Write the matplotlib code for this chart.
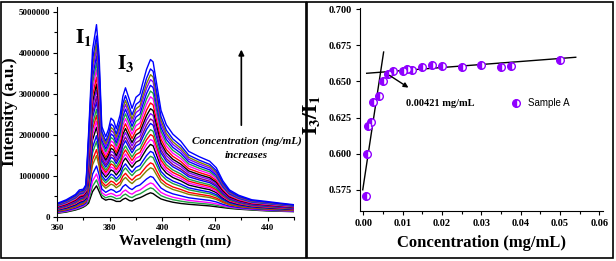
import numpy as np
import matplotlib
matplotlib.use("Agg")
import matplotlib.pyplot as plt
from matplotlib.patches import Rectangle

plt.rcParams['font.family'] = ['Liberation Serif', 'DejaVu Serif']
plt.rcParams['font.weight'] = 'bold'
plt.rcParams['axes.labelweight'] = 'bold'
plt.rcParams['mathtext.fontset'] = 'stix'

# ---- left panel: emission spectra ----
wavelength = [360, 363.5, 367, 368.5, 370, 371, 372, 373.5, 375, 376, 377, 378.5, 379.5,
              380.5, 381.5, 382.5, 384, 385, 386, 387.5, 388.5, 390, 391.5, 392.5, 394,
              395.5, 396.5, 398, 399.5, 401.5, 404, 407, 410, 414, 418, 420.5, 423, 425.5,
              429, 434, 439.5, 444.5, 450]
# highest concentration spectrum (blue outline)
top_spectrum = [0.33, 0.42, 0.55, 0.66, 0.68, 0.79, 2.05, 4.08, 4.69, 3.92, 2.21, 1.96, 2.13,
                2.41, 2.35, 2.15, 2.50, 2.94, 3.15, 2.86, 2.65, 2.92, 3.00, 3.25, 3.60,
                3.84, 3.78, 3.19, 2.60, 2.25, 2.02, 1.85, 1.60, 1.47, 1.36, 1.20, 0.88, 0.66,
                0.53, 0.42, 0.38, 0.34, 0.30]
# lowest concentration spectrum (black)
bottom_spectrum = [0.09, 0.12, 0.17, 0.20, 0.24, 0.28, 0.34, 0.62, 0.76, 0.62, 0.47, 0.41, 0.43,
                   0.43, 0.41, 0.38, 0.38, 0.43, 0.46, 0.40, 0.39, 0.44, 0.47, 0.50, 0.55,
                   0.59, 0.57, 0.50, 0.44, 0.40, 0.36, 0.33, 0.31, 0.29, 0.27, 0.25, 0.23, 0.21,
                   0.19, 0.17, 0.15, 0.14, 0.13]
# height of the 396 nm band for each curve (x 1e6), bottom to top
peak_396 = [0.58, 0.70, 0.82, 0.98, 1.19, 1.31, 1.47, 1.59, 1.76, 1.88, 2.00, 2.12,
            2.27, 2.38, 2.51, 2.63, 2.77, 2.92, 3.06, 3.20, 3.34, 3.46, 3.60, 3.83]
curve_colors = ['#000000', '#20A040', '#FF00FF', '#0000FF', '#808000', '#FF0000',
                '#20A040', '#0000FF', '#000000', '#FF00FF', '#FF0000', '#20A040',
                '#0000FF', '#800080', '#8000FF', '#000000', '#FF0000', '#FF00FF',
                '#20A040', '#0000FF', '#8000FF', '#808000', '#0000FF', '#0000FF']

# ---- right panel: I3/I1 ratio ----
conc = [0.00075, 0.001, 0.00125, 0.002, 0.0025, 0.004, 0.005, 0.00625, 0.0075, 0.01,
        0.01125, 0.0125, 0.015, 0.0175, 0.02, 0.025, 0.03, 0.035, 0.0375, 0.05]
ratio = [0.571, 0.600, 0.619, 0.622, 0.636, 0.640, 0.650, 0.6553, 0.657, 0.657,
         0.6587, 0.658, 0.660, 0.6617, 0.6608, 0.660, 0.6617, 0.6603, 0.661, 0.665]
steep_fit = (18.0, 0.5768)     # slope, intercept
flat_fit = (0.209, 0.6555)
steep_range = (-0.0001, 0.0052)
flat_range = (0.0009, 0.054)
cmc = 0.00421

fig = plt.figure(figsize=(6.16, 2.61), dpi=100)

# panel frames
for x0, x1 in [(1, 306), (307, 613)]:
    fig.add_artist(Rectangle((x0 / 616, 3 / 261), (x1 - x0) / 616, 256 / 261,
                             transform=fig.transFigure, fill=False, lw=1.2, ec='black'))

ax1 = fig.add_axes([57 / 616, 1 - 217 / 261, 237 / 616, 210 / 261])
wl = np.array(wavelength)
top = np.array(top_spectrum) * 1e6
bot = np.array(bottom_spectrum) * 1e6
for p, c in zip(peak_396, curve_colors):
    w = (p - peak_396[0]) / (peak_396[-1] - peak_396[0])
    ax1.plot(wl, bot + w * (top - bot), color=c, lw=1.0)

ax1.set_xlim(360, 450)
ax1.set_ylim(0, 5.12e6)
ax1.set_xticks([360, 380, 400, 420, 440])
ax1.set_xticks(np.arange(370, 451, 20), minor=True)
ax1.set_yticks(np.arange(0, 5000001, 1000000))
ax1.set_yticks(np.arange(500000, 5000000, 1000000), minor=True)
ax1.yaxis.set_major_formatter(matplotlib.ticker.FuncFormatter(lambda v, _: f'{int(v)}'))
ax1.tick_params(labelsize=6.5, length=3, width=0.8, direction='out', pad=2)
ax1.tick_params(which='minor', length=2, width=0.8)
for s in ['top', 'right']:
    ax1.spines[s].set_visible(False)
ax1.set_xlabel('Wavelength (nm)', fontsize=11)
ax1.xaxis.set_label_coords(0.5, -0.085)
ax1.set_ylabel('Intensity (a.u.)', fontsize=12.5)
ax1.yaxis.set_label_coords(-0.163, 0.5)

ax1.text(366.8, 4.24e6, r'$\mathbf{I_1}$', fontsize=15)
ax1.text(382.7, 3.6e6, r'$\mathbf{I_3}$', fontsize=15)
ax1.annotate('', xy=(430, 4.15e6), xytext=(430, 2.17e6),
             arrowprops=dict(arrowstyle='-|>', color='black', lw=1.2, mutation_scale=8))
ax1.text(432, 1.84e6, 'Concentration (mg/mL)', fontsize=8, style='italic',
         ha='center', va='center')
ax1.text(431.7, 1.50e6, 'increases', fontsize=8, style='italic', ha='center', va='center')

# ---- right axes ----
ax2 = fig.add_axes([360 / 616, 1 - 210.7 / 261, 243.3 / 616, 202.4 / 261])
xs = np.array(steep_range)
ax2.plot(xs, steep_fit[0] * xs + steep_fit[1], color='black', lw=1.0)
xf = np.array(flat_range)
ax2.plot(xf, flat_fit[0] * xf + flat_fit[1], color='black', lw=1.0)
ax2.plot(conc, ratio, 'o', ls='none', ms=5.5, fillstyle='left', color='#8F00FF',
         markerfacecoloralt='white', mec='#8F00FF', mew=1.0, label='Sample A')

ax2.set_xlim(-0.0008, 0.061)
ax2.set_ylim(0.5605, 0.7007)
ax2.set_xticks(np.arange(0, 0.061, 0.01))
ax2.set_xticks(np.arange(0.005, 0.061, 0.01), minor=True)
ax2.set_yticks([0.575, 0.600, 0.625, 0.650, 0.675, 0.700])
ax2.set_yticks(np.arange(0.5625, 0.70, 0.0125)[1::2], minor=True)
ax2.xaxis.set_major_formatter(matplotlib.ticker.FormatStrFormatter('%.2f'))
ax2.yaxis.set_major_formatter(matplotlib.ticker.FormatStrFormatter('%.3f'))
ax2.tick_params(labelsize=7.5, length=3, width=0.8, direction='out', pad=3)
ax2.tick_params(which='minor', length=2, width=0.8)
for s in ['top', 'right']:
    ax2.spines[s].set_visible(False)
ax2.set_xlabel('Concentration (mg/mL)', fontsize=12)
ax2.xaxis.set_label_coords(0.5, -0.12)
ax2.set_ylabel(r'$\mathbf{I_3/I_1}$', fontsize=15)
ax2.yaxis.set_label_coords(-0.156, 0.47)

ax2.annotate('', xy=(0.0121, 0.6447), xytext=(0.0061, 0.6553),
             arrowprops=dict(arrowstyle='-|>', color='black', lw=1.0, mutation_scale=7))
ax2.text(0.0109, 0.635, f'{cmc:.5f} mg/mL', fontsize=7.5, va='center')
ax2.legend(loc='center left', bbox_to_anchor=(0.6, 0.53), frameon=False,
           prop={'family': 'Liberation Sans', 'weight': 'normal', 'size': 7},
           handlelength=1.0, handletextpad=0.8, borderpad=0)

fig.savefig('out.png', dpi=100)
